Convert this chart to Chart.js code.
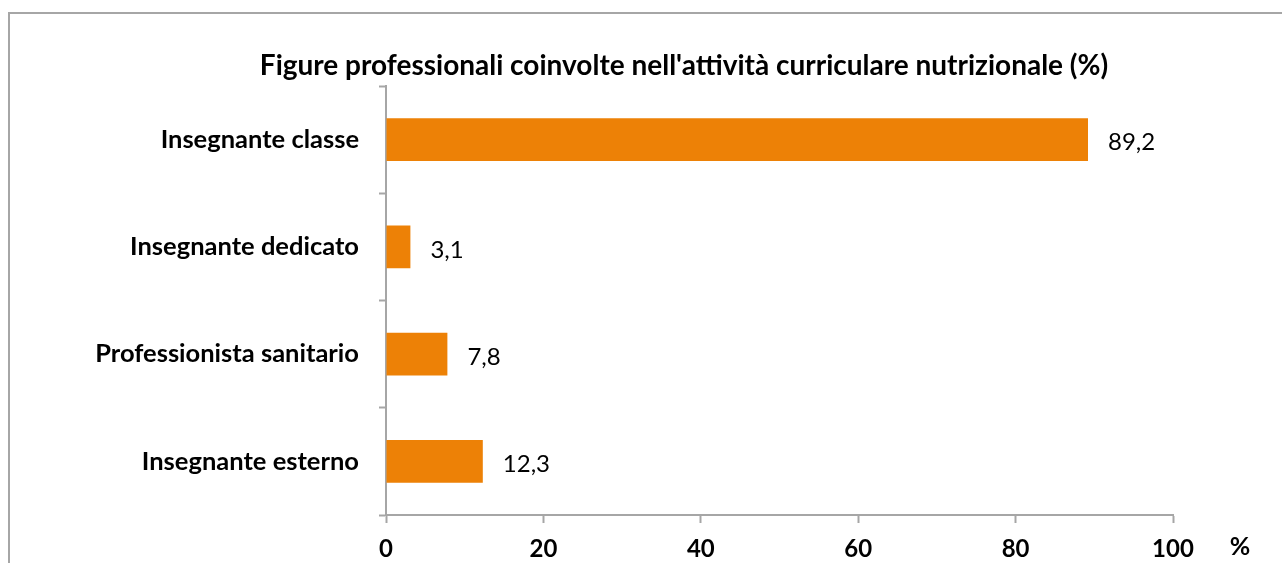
<!DOCTYPE html>
<html>
<head>
<meta charset="utf-8">
<script src="https://cdn.jsdelivr.net/npm/chart.js@4.4.1/dist/chart.umd.min.js"></script>
<style>
  html, body { margin: 0; padding: 0; background: #fff; overflow: hidden; }
  .frame {
    position: absolute; left: 8px; top: 12px; width: 1400px; height: 700px;
    border-top: 2px solid #a6a6a6; border-left: 2px solid #a6a6a6;
  }
  #chart { position: absolute; left: 0; top: 0; }
</style>
</head>
<body>
<div class="frame"></div>
<canvas id="chart" width="1282" height="563"></canvas>
<script>
// dati del grafico
const titolo = "Figure professionali coinvolte nell'attività curriculare nutrizionale (%)";
const categorie = [
  "Insegnante classe",
  "Insegnante dedicato",
  "Professionista sanitario",
  "Insegnante esterno",
];
const valori = [89.2, 3.1, 7.8, 12.3];
const asseMin = 0;
const asseMax = 100;
const asseStep = 20;
const unita = "%";

const FONT = "Lato, 'Open Sans', sans-serif";
const grigio = "#a6a6a6";

function fmt(v) {
  return v.toFixed(1).replace(".", ",");
}

/* etichette valori + titolo + simbolo % */
const extraPlugin = {
  id: "extra",
  afterDatasetsDraw(chart) {
    const ctx = chart.ctx;
    const meta = chart.getDatasetMeta(0);
    ctx.save();
    ctx.fillStyle = "#000";
    ctx.font = "24px " + FONT;
    ctx.textAlign = "left";
    ctx.textBaseline = "middle";
    meta.data.forEach((bar, i) => {
      ctx.fillText(fmt(valori[i]), bar.x + 20, bar.y + 3);
    });

    const x = chart.scales.x;
    ctx.font = "bold 25px " + FONT;
    ctx.textAlign = "center";
    ctx.fillText(unita, x.right + 67, 547);

    ctx.font = "bold 28px " + FONT;
    ctx.fillText(titolo, 684, 66);
    ctx.restore();
  },
};

const ctx = document.getElementById("chart");
new Chart(ctx, {
  type: "bar",
  data: {
    labels: categorie,
    datasets: [
      {
        data: valori,
        backgroundColor: "#ed8106",
        borderWidth: 0,
        barPercentage: 0.8,
        categoryPercentage: 0.5,
      },
    ],
  },
  options: {
    indexAxis: "y",
    responsive: false,
    animation: false,
    layout: { padding: { left: 0, right: 109, top: 86, bottom: 0 } },
    plugins: {
      legend: { display: false },
      title: { display: false },
      tooltip: { enabled: false },
    },
    scales: {
      x: {
        min: asseMin,
        max: asseMax,
        ticks: {
          stepSize: asseStep,
          color: "#000",
          font: { family: FONT, size: 24, weight: "bold" },
          padding: 12,
        },
        grid: {
          drawOnChartArea: false,
          tickLength: 8,
          tickColor: grigio,
          tickWidth: 2,
        },
        border: { color: grigio, width: 2 },
        afterFit(scale) {
          scale.height = 48;
        },
      },
      y: {
        offset: true,
        ticks: {
          color: "#000",
          font: { family: FONT, size: 25.5, weight: "bold" },
          padding: 20,
        },
        grid: {
          offset: true,
          drawOnChartArea: false,
          tickLength: 7,
          tickColor: grigio,
          tickWidth: 2,
        },
        border: { color: grigio, width: 2 },
        afterFit(scale) {
          scale.width = 386;
        },
      },
    },
  },
  plugins: [extraPlugin],
});
</script>
</body>
</html>
